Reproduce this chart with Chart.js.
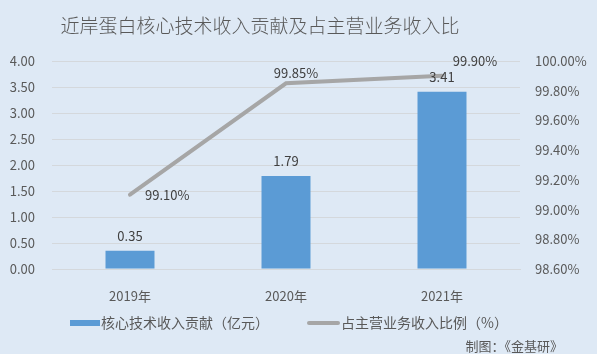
<!DOCTYPE html>
<html>
<head>
<meta charset="utf-8">
<script src="https://cdn.jsdelivr.net/npm/chart.js@4/dist/chart.umd.min.js"></script>
<style>
  html, body { margin: 0; padding: 0; background: #dee9f5; }
  #wrap { width: 597px; height: 354px; position: relative; }
</style>
</head>
<body>
<div id="wrap"><canvas id="c"></canvas></div>
<script>
// data
const years = ['2019年', '2020年', '2021年'];
const coreRevenue = [0.35, 1.79, 3.41];          // 亿元
const shareOfMain = [99.10, 99.85, 99.90];        // %
const titleText = '近岸蛋白核心技术收入贡献及占主营业务收入比';
const sourceText = '制图：《金基研》';

const FONT = '"Noto Sans CJK SC", "Noto Sans", sans-serif';
const TEXT = '#595959';

// per-point label offsets for the line (relative to point)
const lineLabelOffsets = [[15, 0, 'left'], [10, -10, 'center'], [33, -15, 'center']];

const extrasPlugin = {
  id: 'extras',
  afterDatasetsDraw(chart) {
    const ctx = chart.ctx;
    ctx.save();
    ctx.font = '13px ' + FONT;
    ctx.fillStyle = '#404040';
    ctx.textBaseline = 'middle';
    // bar labels
    chart.getDatasetMeta(0).data.forEach((el, i) => {
      ctx.textAlign = 'center';
      ctx.fillText(coreRevenue[i].toFixed(2), el.x, el.y - 15);
    });
    // line labels
    chart.getDatasetMeta(1).data.forEach((el, i) => {
      const [dx, dy, al] = lineLabelOffsets[i];
      ctx.textAlign = al;
      ctx.fillText(shareOfMain[i].toFixed(2) + '%', el.x + dx, el.y + dy);
    });
    ctx.restore();
  },
  afterDraw(chart) {
    const ctx = chart.ctx;
    ctx.save();
    // title
    ctx.font = '300 19px ' + FONT;
    ctx.fillStyle = TEXT;
    ctx.textAlign = 'center';
    ctx.textBaseline = 'middle';
    ctx.fillText(titleText, 260, 26);

    // legend
    const ds = chart.data.datasets;
    ctx.font = '14px ' + FONT;
    ctx.textAlign = 'left';
    ctx.fillStyle = ds[0].backgroundColor;
    ctx.fillRect(70, 320, 30, 6);
    ctx.fillStyle = TEXT;
    ctx.fillText(ds[0].label, 101, 323);
    ctx.strokeStyle = ds[1].borderColor;
    ctx.lineWidth = 4;
    ctx.lineCap = 'round';
    ctx.beginPath();
    ctx.moveTo(309, 323);
    ctx.lineTo(338, 323);
    ctx.stroke();
    ctx.fillText(ds[1].label, 341, 323);

    // source
    ctx.font = '13px ' + FONT;
    ctx.textAlign = 'right';
    ctx.fillText(sourceText, 563, 346);
    ctx.restore();
  }
};

new Chart(document.getElementById('c'), {
  data: {
    labels: years,
    datasets: [
      {
        type: 'bar',
        label: '核心技术收入贡献（亿元）',
        data: coreRevenue,
        backgroundColor: '#5b9bd5',
        yAxisID: 'y',
        barPercentage: 0.314,
        categoryPercentage: 1,
        order: 2
      },
      {
        type: 'line',
        label: '占主营业务收入比例（%）',
        data: shareOfMain,
        borderColor: '#a6a6a6',
        borderWidth: 4,
        borderCapStyle: 'round',
        pointRadius: 0,
        tension: 0,
        yAxisID: 'y1',
        order: 1
      }
    ]
  },
  options: {
    responsive: true,
    maintainAspectRatio: false,
    animation: false,
    layout: { padding: { top: 61, bottom: 45, left: 0, right: 0 } },
    plugins: {
      legend: { display: false },
      title: { display: false },
      tooltip: { enabled: false }
    },
    scales: {
      x: {
        grid: { display: false },
        border: { display: true, color: '#d4d8dc' },
        ticks: { color: TEXT, font: { family: FONT, size: 13 }, padding: 11 },
        afterFit: s => { s.height = 40; }
      },
      y: {
        position: 'left',
        min: 0,
        max: 4,
        ticks: {
          stepSize: 0.5,
          color: TEXT,
          font: { family: FONT, size: 13 },
          padding: 17,
          callback: v => v.toFixed(2)
        },
        grid: { color: '#d4d8dc', drawTicks: false },
        border: { display: false },
        afterFit: s => { s.width = 52; }
      },
      y1: {
        position: 'right',
        min: 98.6,
        max: 100,
        ticks: {
          stepSize: 0.2,
          color: TEXT,
          font: { family: FONT, size: 13 },
          padding: 15,
          callback: v => v.toFixed(2) + '%'
        },
        grid: { display: false, drawTicks: false },
        border: { display: false },
        afterFit: s => { s.width = 77; }
      }
    }
  },
  plugins: [extrasPlugin]
});
</script>
</body>
</html>
